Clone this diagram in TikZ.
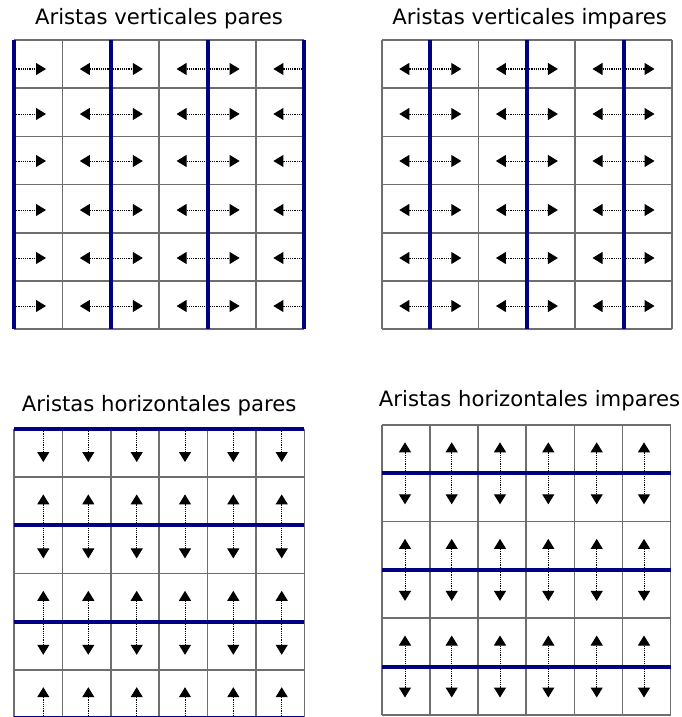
\documentclass[tikz,border=0pt]{standalone}
\usepackage{fontspec}
\setmainfont{DejaVu Sans}
\usetikzlibrary{arrows.meta}
\definecolor{edgeblue}{HTML}{000080}
\definecolor{gridgray}{HTML}{6E6E6E}
\begin{document}
\begin{tikzpicture}[x=1pt,y=-1pt,
  gridline/.style={draw=gridgray, line width=1.7pt},
  blueline/.style={draw=edgeblue, line width=4pt},
  flow/.style={line width=1pt, dash pattern=on 1.2pt off 1pt, -{Triangle[length=10pt,width=12pt]}},
  title/.style={font=\fontsize{21.2}{25}\selectfont, anchor=base, inner sep=0pt}]
\useasboundingbox (0,0) rectangle (681,717);

% titles
\node[title] (t1) at (159,25) {Aristas verticales pares};
\node[title] (t2) at (529.7,25) {Aristas verticales impares};
\node[title] (t3) at (159.2,411.5) {Aristas horizontales pares};
\node[title] (t4) at (529.5,406.5) {Aristas horizontales impares};

% ---------- top-left: vertical even ----------
\foreach \i in {0,...,6} \draw[gridline] ({14+48.4*\i},40) -- ({14+48.4*\i},329.2);
\foreach \j in {0,...,6} \draw[gridline] (14,{40+48.2*\j}) -- (304.4,{40+48.2*\j});
\foreach \y in {69,114,161,210,258,306} {
  \foreach \i in {0,2,4} \draw[flow] ({14+48.4*\i},\y) -- ++(32,0);
  \foreach \i in {2,4,6} \draw[flow] ({14+48.4*\i},\y) -- ++(-31,0);
}
\foreach \i in {0,2,4,6} \draw[blueline] ({14+48.4*\i},40) -- ({14+48.4*\i},329.2);

% ---------- top-right: vertical odd ----------
\foreach \i in {0,...,6} \draw[gridline] ({382+48.3*\i},40) -- ({382+48.3*\i},329.2);
\foreach \j in {0,...,6} \draw[gridline] (382,{40+48.2*\j}) -- (671.8,{40+48.2*\j});
\foreach \y in {69,114,161,210,258,306} {
  \foreach \i in {1,3,5} {
    \draw[flow] ({382+48.3*\i},\y) -- ++(31,0);
    \draw[flow] ({382+48.3*\i},\y) -- ++(-31,0);
  }
}
\foreach \i in {1,3,5} \draw[blueline] ({382+48.3*\i},40) -- ({382+48.3*\i},329.2);

% ---------- bottom-left: horizontal even ----------
\foreach \i in {0,...,6} \draw[gridline] ({14+48.4*\i},429) -- ({14+48.4*\i},718.2);
\foreach \j in {0,...,6} \draw[gridline] (14,{429+48.2*\j}) -- (304.4,{429+48.2*\j});
\foreach \x in {43.3,88.3,136.7,185,233.3,281.7} {
  \foreach \j in {0,2,4} \draw[flow] (\x,{429+48.2*\j}) -- ++(0,33);
  \foreach \j in {2,4,6} \draw[flow] (\x,{429+48.2*\j}) -- ++(0,-31);
}
\foreach \j in {0,2,4,6} \draw[blueline] (14,{429+48.2*\j}) -- (304.4,{429+48.2*\j});

% ---------- bottom-right: horizontal odd ----------
\foreach \i in {0,...,6} \draw[gridline] ({382+48.1*\i},425) -- ({382+48.1*\i},714.8);
\foreach \j in {0,...,6} \draw[gridline] (382,{425+48.3*\j}) -- (670.6,{425+48.3*\j});
\foreach \x in {405,451.7,500,548.3,596.7,644} {
  \foreach \j in {1,3,5} {
    \draw[flow] (\x,{425+48.3*\j}) -- ++(0,31);
    \draw[flow] (\x,{425+48.3*\j}) -- ++(0,-31);
  }
}
\foreach \j in {1,3,5} \draw[blueline] (382,{425+48.3*\j}) -- (670.6,{425+48.3*\j});
\end{tikzpicture}
\end{document}
